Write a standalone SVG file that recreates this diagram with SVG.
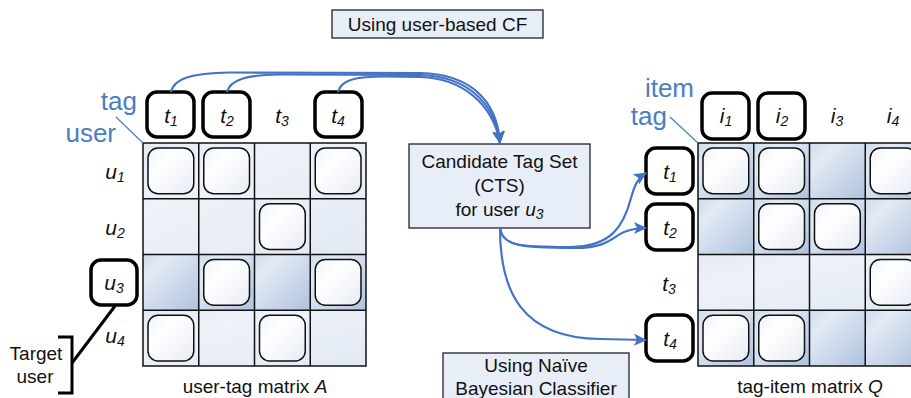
<svg xmlns="http://www.w3.org/2000/svg" width="911" height="398" viewBox="0 0 911 398">
<defs>
<linearGradient id="gLight" x1="0" y1="0" x2="1" y2="1"><stop offset="0" stop-color="#e4eaf4"/><stop offset="0.3" stop-color="#eef2f9"/><stop offset="1" stop-color="#e2e9f3"/></linearGradient>
<linearGradient id="gDark" x1="0" y1="0" x2="1" y2="1"><stop offset="0" stop-color="#cfdcec"/><stop offset="0.25" stop-color="#e3eaf4"/><stop offset="1" stop-color="#aec2de"/></linearGradient>
<linearGradient id="gBox" x1="0" y1="0" x2="1" y2="1"><stop offset="0" stop-color="#f0f3f9"/><stop offset="0.35" stop-color="#ffffff"/><stop offset="1" stop-color="#e6ecf5"/></linearGradient>
<marker id="ah" viewBox="0 0 13 12" refX="12" refY="6" markerWidth="13" markerHeight="12" markerUnits="userSpaceOnUse" orient="auto"><path d="M0,0 L13,6 L0,12 L3,6 Z" fill="#4472c4"/></marker>
</defs>
<style>
.cl{fill:url(#gLight)}
.cd{fill:url(#gDark)}
.ib{fill:url(#gBox);stroke:#111;stroke-width:1.5}
.grid{fill:none;stroke:#111;stroke-width:1.5}
.hb{fill:#fff;stroke:#000;stroke-width:3.5}
.lab{font-family:"Liberation Sans",Arial,sans-serif;font-style:italic;font-size:21px;fill:#111;text-anchor:middle}
.sub{font-size:14px}
.txt{font-family:"Liberation Sans",Arial,sans-serif;font-size:19px;fill:#111;text-anchor:middle}
.blue{font-family:"Liberation Sans",Arial,sans-serif;font-size:26px;fill:#4a7ebf;text-anchor:end}
.box{fill:#e8eef7;stroke:#222;stroke-width:1.3}
.con{fill:none;stroke:#4472c4;stroke-width:2.2}
.thin{stroke:#4a7ebf;stroke-width:1.2}
</style>

<g id="title-cf">
<rect class="box" x="332" y="10" width="211" height="28"/>
<text class="txt" x="437.5" y="31">Using user-based CF</text>
</g>

<g id="matrix-A">
<rect class="cl" x="143" y="143" width="223" height="111.5"/>
<rect class="cd" x="143" y="254.5" width="55.75" height="55.75"/>
<rect class="cd" x="198.75" y="254.5" width="55.75" height="55.75"/>
<rect class="cd" x="254.5" y="254.5" width="55.75" height="55.75"/>
<rect class="cd" x="310.25" y="254.5" width="55.75" height="55.75"/>
<rect class="cl" x="143" y="310.25" width="223" height="55.75"/>
<rect class="ib" x="148" y="148" width="45.75" height="45.75" rx="10"/>
<rect class="ib" x="203.75" y="148" width="45.75" height="45.75" rx="10"/>
<rect class="ib" x="315.25" y="148" width="45.75" height="45.75" rx="10"/>
<rect class="ib" x="259.5" y="203.75" width="45.75" height="45.75" rx="10"/>
<rect class="ib" x="203.75" y="259.5" width="45.75" height="45.75" rx="10"/>
<rect class="ib" x="315.25" y="259.5" width="45.75" height="45.75" rx="10"/>
<rect class="ib" x="148" y="315.25" width="45.75" height="45.75" rx="10"/>
<rect class="ib" x="259.5" y="315.25" width="45.75" height="45.75" rx="10"/>
<path class="grid" d="M143,143 H366 V366 H143 Z M198.75,143 V366 M254.5,143 V366 M310.25,143 V366 M143,198.75 H366 M143,254.5 H366 M143,310.25 H366"/>
<text class="txt" x="255" y="393">user-tag matrix <tspan font-style="italic">A</tspan></text>
</g>

<g id="axis-A">
<text class="blue" x="137" y="110">tag</text>
<text class="blue" x="116" y="142">user</text>
<line class="thin" x1="116" y1="117" x2="143" y2="143"/>
</g>

<g id="col-t1"><rect class="hb" x="147" y="92" width="47" height="45" rx="10"/><text class="lab" x="171" y="123">t<tspan class="sub" dy="3">1</tspan></text></g>
<g id="col-t2"><rect class="hb" x="203" y="92" width="47" height="45" rx="10"/><text class="lab" x="227" y="123">t<tspan class="sub" dy="3">2</tspan></text></g>
<g id="col-t3"><text class="lab" x="282" y="123">t<tspan class="sub" dy="3">3</tspan></text></g>
<g id="col-t4"><rect class="hb" x="315" y="92" width="47" height="45" rx="10"/><text class="lab" x="338" y="123">t<tspan class="sub" dy="3">4</tspan></text></g>

<g id="row-u1"><text class="lab" x="115" y="179">u<tspan class="sub" dy="3">1</tspan></text></g>
<g id="row-u2"><text class="lab" x="115" y="235">u<tspan class="sub" dy="3">2</tspan></text></g>
<g id="row-u3"><rect class="hb" x="91" y="260" width="46" height="45" rx="10"/><text class="lab" x="114" y="290">u<tspan class="sub" dy="3">3</tspan></text></g>
<g id="row-u4"><text class="lab" x="115" y="343">u<tspan class="sub" dy="3">4</tspan></text></g>

<g id="target-user">
<path d="M58,337 H72 V393 H58" fill="none" stroke="#000" stroke-width="3"/>
<line x1="72" y1="363" x2="115" y2="306" stroke="#000" stroke-width="3"/>
<text class="txt" x="36" y="360" font-size="18">Target</text>
<text class="txt" x="35" y="383" font-size="18">user</text>
</g>

<g id="cts">
<rect class="box" x="409" y="144" width="181" height="84"/>
<text class="txt" x="499.5" y="168">Candidate Tag Set</text>
<text class="txt" x="499.5" y="192">(CTS)</text>
<text class="txt" x="499.5" y="216">for user <tspan font-style="italic">u</tspan><tspan font-style="italic" font-size="14" dy="3">3</tspan></text>
</g>

<g id="title-nb">
<rect class="box" x="443" y="353" width="186" height="60"/>
<text class="txt" x="536" y="372">Using Naïve</text>
<text class="txt" x="536" y="395">Bayesian Classifier</text>
</g>

<g id="matrix-Q">
<rect class="cd" x="698" y="143" width="55.75" height="55.75"/>
<rect class="cd" x="753.75" y="143" width="55.75" height="55.75"/>
<rect class="cd" x="809.5" y="143" width="55.75" height="55.75"/>
<rect class="cd" x="865.25" y="143" width="55.75" height="55.75"/>
<rect class="cd" x="698" y="198.75" width="55.75" height="55.75"/>
<rect class="cd" x="753.75" y="198.75" width="55.75" height="55.75"/>
<rect class="cd" x="809.5" y="198.75" width="55.75" height="55.75"/>
<rect class="cd" x="865.25" y="198.75" width="55.75" height="55.75"/>
<rect class="cl" x="698" y="254.5" width="223" height="55.75"/>
<rect class="cd" x="698" y="310.25" width="55.75" height="55.75"/>
<rect class="cd" x="753.75" y="310.25" width="55.75" height="55.75"/>
<rect class="cd" x="809.5" y="310.25" width="55.75" height="55.75"/>
<rect class="cd" x="865.25" y="310.25" width="55.75" height="55.75"/>
<rect class="ib" x="703" y="148" width="45.75" height="45.75" rx="10"/>
<rect class="ib" x="758.75" y="148" width="45.75" height="45.75" rx="10"/>
<rect class="ib" x="870.25" y="148" width="45.75" height="45.75" rx="10"/>
<rect class="ib" x="758.75" y="203.75" width="45.75" height="45.75" rx="10"/>
<rect class="ib" x="814.5" y="203.75" width="45.75" height="45.75" rx="10"/>
<rect class="ib" x="870.25" y="259.5" width="45.75" height="45.75" rx="10"/>
<rect class="ib" x="703" y="315.25" width="45.75" height="45.75" rx="10"/>
<rect class="ib" x="758.75" y="315.25" width="45.75" height="45.75" rx="10"/>
<path class="grid" d="M698,143 H921 V366 H698 Z M753.75,143 V366 M809.5,143 V366 M865.25,143 V366 M698,198.75 H921 M698,254.5 H921 M698,310.25 H921"/>
<text class="txt" x="810" y="393">tag-item matrix <tspan font-style="italic">Q</tspan></text>
</g>

<g id="axis-Q">
<text class="blue" x="694" y="97">item</text>
<text class="blue" x="667" y="125">tag</text>
<line class="thin" x1="670" y1="117" x2="698" y2="143"/>
</g>

<g id="col-i1"><rect class="hb" x="702" y="93" width="47" height="46" rx="10"/><text class="lab" x="726" y="123">i<tspan class="sub" dy="3">1</tspan></text></g>
<g id="col-i2"><rect class="hb" x="758" y="93" width="47" height="46" rx="10"/><text class="lab" x="782" y="123">i<tspan class="sub" dy="3">2</tspan></text></g>
<g id="col-i3"><text class="lab" x="837" y="123">i<tspan class="sub" dy="3">3</tspan></text></g>
<g id="col-i4"><text class="lab" x="893" y="123">i<tspan class="sub" dy="3">4</tspan></text></g>

<g id="row-t1"><rect class="hb" x="646" y="148" width="47" height="46" rx="10"/><text class="lab" x="670" y="179">t<tspan class="sub" dy="3">1</tspan></text></g>
<g id="row-t2"><rect class="hb" x="646" y="204" width="47" height="46" rx="10"/><text class="lab" x="670" y="235">t<tspan class="sub" dy="3">2</tspan></text></g>
<g id="row-t3"><text class="lab" x="669" y="291">t<tspan class="sub" dy="3">3</tspan></text></g>
<g id="row-t4"><rect class="hb" x="646" y="315" width="47" height="46" rx="10"/><text class="lab" x="670" y="346">t<tspan class="sub" dy="3">4</tspan></text></g>

<g id="connectors">
<path class="con" marker-end="url(#ah)" d="M171,92 C174,79 190,73 230,72.5 L420,73 C470,74 497,100 500,143"/>
<path class="con" marker-end="url(#ah)" d="M227,92 C230,80 245,75 280,74.5 L420,75 C466,76 495,102 500,143"/>
<path class="con" marker-end="url(#ah)" d="M338,92 C341,80 355,76.5 385,76.5 L420,77 C462,78 493,104 500,143"/>
<path class="con" marker-end="url(#ah)" d="M500,228 C502,246 520,247 570,247 C612,247 624,225 631,198 C635,184 638,178 646,173"/>
<path class="con" marker-end="url(#ah)" d="M500,228 C503,246 520,248 575,248 C608,248 614,236 624,232 C632,229 638,228 646,228"/>
<path class="con" marker-end="url(#ah)" d="M500,228 C500,292 522,338 600,339 L646,340"/>
</g>
</svg>
